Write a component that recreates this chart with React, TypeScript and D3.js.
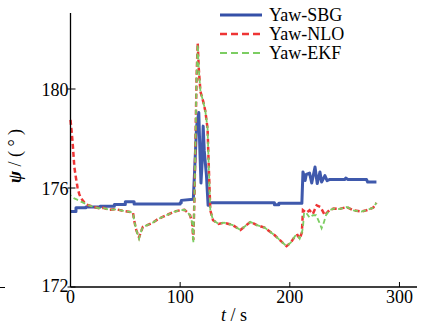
import React from "react";
import * as d3 from "d3";

const sbgT = [0, 5, 5, 14, 14, 27, 27, 40, 40, 50, 50, 58, 58, 100, 100, 101, 101, 112, 113, 115, 117, 118, 119, 120, 121, 122, 124, 125.5, 127, 186, 186, 190, 190, 211, 212, 214, 215, 218, 220, 223, 225, 227.5, 229, 232, 234, 236, 250, 251, 253, 270, 271, 279];
const sbgV = [175.05, 175.05, 175.2, 175.2, 175.23, 175.23, 175.26, 175.26, 175.33, 175.33, 175.44, 175.44, 175.35, 175.35, 175.4, 175.4, 175.5, 175.55, 176.5, 178.5, 179.05, 177.5, 176.2, 177.0, 178.5, 177.5, 176.5, 175.3, 175.4, 175.4, 175.32, 175.32, 175.38, 175.38, 176.65, 176.3, 176.55, 176.6, 176.2, 176.85, 176.18, 176.65, 176.24, 176.5, 176.3, 176.34, 176.34, 176.4, 176.34, 176.34, 176.24, 176.24];

const nloT = [0, 1, 2, 3.5, 5, 6.5, 8, 9.6, 12, 14, 20, 26, 30, 35, 41.5, 48, 55, 57, 58, 60, 62.5, 64, 66, 70, 75, 80, 85, 90, 95, 100, 104, 107, 109, 111, 112, 113, 114, 115, 116, 117, 118.5, 121, 123, 125, 126, 127.5, 130, 135, 140, 148, 155, 164, 170, 177, 186, 192, 197, 201, 205, 207, 209, 211, 212, 215, 218, 221, 224.5, 228, 232, 236, 240, 245, 252, 258, 265, 270, 276, 279];
const nloV = [178.75, 178.3, 177.8, 176.85, 176.4, 176.0, 175.75, 175.58, 175.45, 175.34, 175.25, 175.18, 175.2, 175.12, 175.14, 175.08, 175.03, 175.0, 174.7, 174.3, 174.0, 174.2, 174.43, 174.5, 174.6, 174.75, 174.85, 174.95, 175.05, 175.1, 175.12, 175.0, 174.9, 174.6, 173.9, 175.5, 178.0, 180.5, 181.85, 180.8, 179.9, 179.5, 179.1, 178.4, 177.0, 175.1, 174.7, 174.55, 174.6, 174.5, 174.3, 174.63, 174.5, 174.4, 174.1, 173.85, 173.65, 173.8, 174.07, 174.1, 173.95, 174.2, 175.1, 175.0, 175.1, 174.95, 175.3, 175.23, 174.9, 175.1, 175.17, 175.15, 175.23, 175.1, 175.05, 175.1, 175.2, 175.4];

const ekfT = [0, 1, 2, 3.5, 5, 6.5, 8, 9.6, 12, 14, 20, 26, 30, 35, 41.5, 48, 55, 57, 58, 60, 62.5, 64, 66, 70, 75, 80, 85, 90, 95, 100, 104, 107, 109, 111, 112, 113, 114, 115, 116, 117, 118.5, 121, 123, 125, 126, 127.5, 130, 135, 140, 148, 155, 164, 170, 177, 186, 192, 197, 201, 205, 207, 209, 211, 212, 213, 215, 218, 221, 224, 227, 229, 231, 233, 236, 240, 245, 252, 258, 265, 270, 276, 279];
const ekfV = [175.7, 175.65, 175.62, 175.58, 175.55, 175.52, 175.5, 175.45, 175.4, 175.34, 175.25, 175.18, 175.2, 175.12, 175.14, 175.08, 175.03, 175.0, 174.7, 174.3, 173.95, 174.2, 174.43, 174.5, 174.6, 174.75, 174.85, 174.95, 175.05, 175.1, 175.12, 175.0, 174.9, 174.6, 173.77, 175.5, 178.0, 180.5, 181.8, 180.8, 179.9, 179.5, 179.1, 178.4, 177.0, 175.1, 174.7, 174.55, 174.6, 174.5, 174.3, 174.63, 174.5, 174.4, 174.1, 173.85, 173.65, 173.8, 174.07, 174.1, 173.95, 174.2, 174.4, 175.0, 175.0, 174.8, 174.9, 174.9, 174.6, 174.37, 174.6, 174.9, 175.1, 175.17, 175.15, 175.23, 175.1, 175.05, 175.1, 175.2, 175.4];

const xTicks = [0, 100, 200, 300];
const yTicks = [172, 176, 180];
const seriesNames = ["Yaw-SBG", "Yaw-NLO", "Yaw-EKF"];

const FONT = "'Liberation Serif', 'DejaVu Serif', serif";

export default function App() {
  const x = d3.scaleLinear().domain([0, 316]).range([70.5, 417]);
  const y = d3.scaleLinear().domain([172, 180]).range([287, 89]);

  const line = d3
    .line<[number, number]>()
    .x((d) => x(d[0]))
    .y((d) => y(d[1]));

  const sbg = line(sbgT.map((t, i) => [t, sbgV[i]]) as [number, number][]) || "";
  const nlo = line(nloT.map((t, i) => [t, nloV[i]]) as [number, number][]) || "";
  const ekf = line(ekfT.map((t, i) => [t, ekfV[i]]) as [number, number][]) || "";

  const blue = "#3550a8";
  const red = "#ee3535";
  const green = "#7ccd62";

  const legendY = [15, 34, 53];
  const legendStyle = [
    { stroke: blue, w: 3, dash: undefined as string | undefined },
    { stroke: red, w: 2.5, dash: "7,4" },
    { stroke: green, w: 2, dash: "7,4" },
  ];

  return (
    <svg
      width={431}
      height={325}
      style={{ position: "absolute", left: 0, top: 0, background: "#fff" }}
      fontFamily={FONT}
    >
      <rect x={0} y={0} width={431} height={325} fill="#fff" />
      {/* data */}
      <path d={sbg} fill="none" stroke={blue} strokeWidth={3} strokeLinejoin="round" opacity={0.95} />
      <path d={nlo} fill="none" stroke={red} strokeWidth={2.5} strokeDasharray="5,3" />
      <path d={ekf} fill="none" stroke={green} strokeWidth={1.8} strokeDasharray="5,3" strokeDashoffset={4} />

      {/* axes */}
      <line x1={x(0)} x2={x(0)} y1={13} y2={y(172)} stroke="#000" strokeWidth={1.3} />
      <line x1={x(0)} x2={417} y1={y(172)} y2={y(172)} stroke="#000" strokeWidth={1.3} />
      {yTicks.map((v) => (
        <g key={v}>
          <line x1={x(0) - 3} x2={x(0) + 5} y1={y(v)} y2={y(v)} stroke="#000" strokeWidth={1} />
          <text x={x(0) - 2} y={y(v) + (v === 172 ? 5 : 7)} textAnchor="end" fontSize={18} fill="#000">
            {v}
          </text>
        </g>
      ))}
      {xTicks.map((v) => (
        <g key={v}>
          <line x1={x(v)} x2={x(v)} y1={y(172)} y2={y(172) - 5} stroke="#000" strokeWidth={1} />
          <text x={x(v)} y={303} textAnchor="middle" fontSize={18} fill="#000">
            {v}
          </text>
        </g>
      ))}
      {/* axis titles */}
      <text x={234} y={321} textAnchor="middle" fontSize={18} fill="#000">
        <tspan fontStyle="italic">t</tspan>
        <tspan> / s</tspan>
      </text>
      <text
        transform="translate(21,156) rotate(-90)"
        textAnchor="middle"
        fontSize={18}
        fill="#000"
      >
        <tspan fontStyle="italic" fontWeight="bold">ψ</tspan>
        <tspan> / ( ° )</tspan>
      </text>
      {/* stray mark at left edge */}
      <line x1={0} x2={5} y1={287.5} y2={287.5} stroke="#000" strokeWidth={1} />

      {/* legend */}
      {seriesNames.map((name, i) => (
        <g key={name}>
          <line
            x1={220}
            x2={262}
            y1={legendY[i]}
            y2={legendY[i]}
            stroke={legendStyle[i].stroke}
            strokeWidth={legendStyle[i].w}
            strokeDasharray={legendStyle[i].dash}
          />
          <text x={269} y={legendY[i] + 6} fontSize={18} fill="#000">
            {name}
          </text>
        </g>
      ))}
    </svg>
  );
}
